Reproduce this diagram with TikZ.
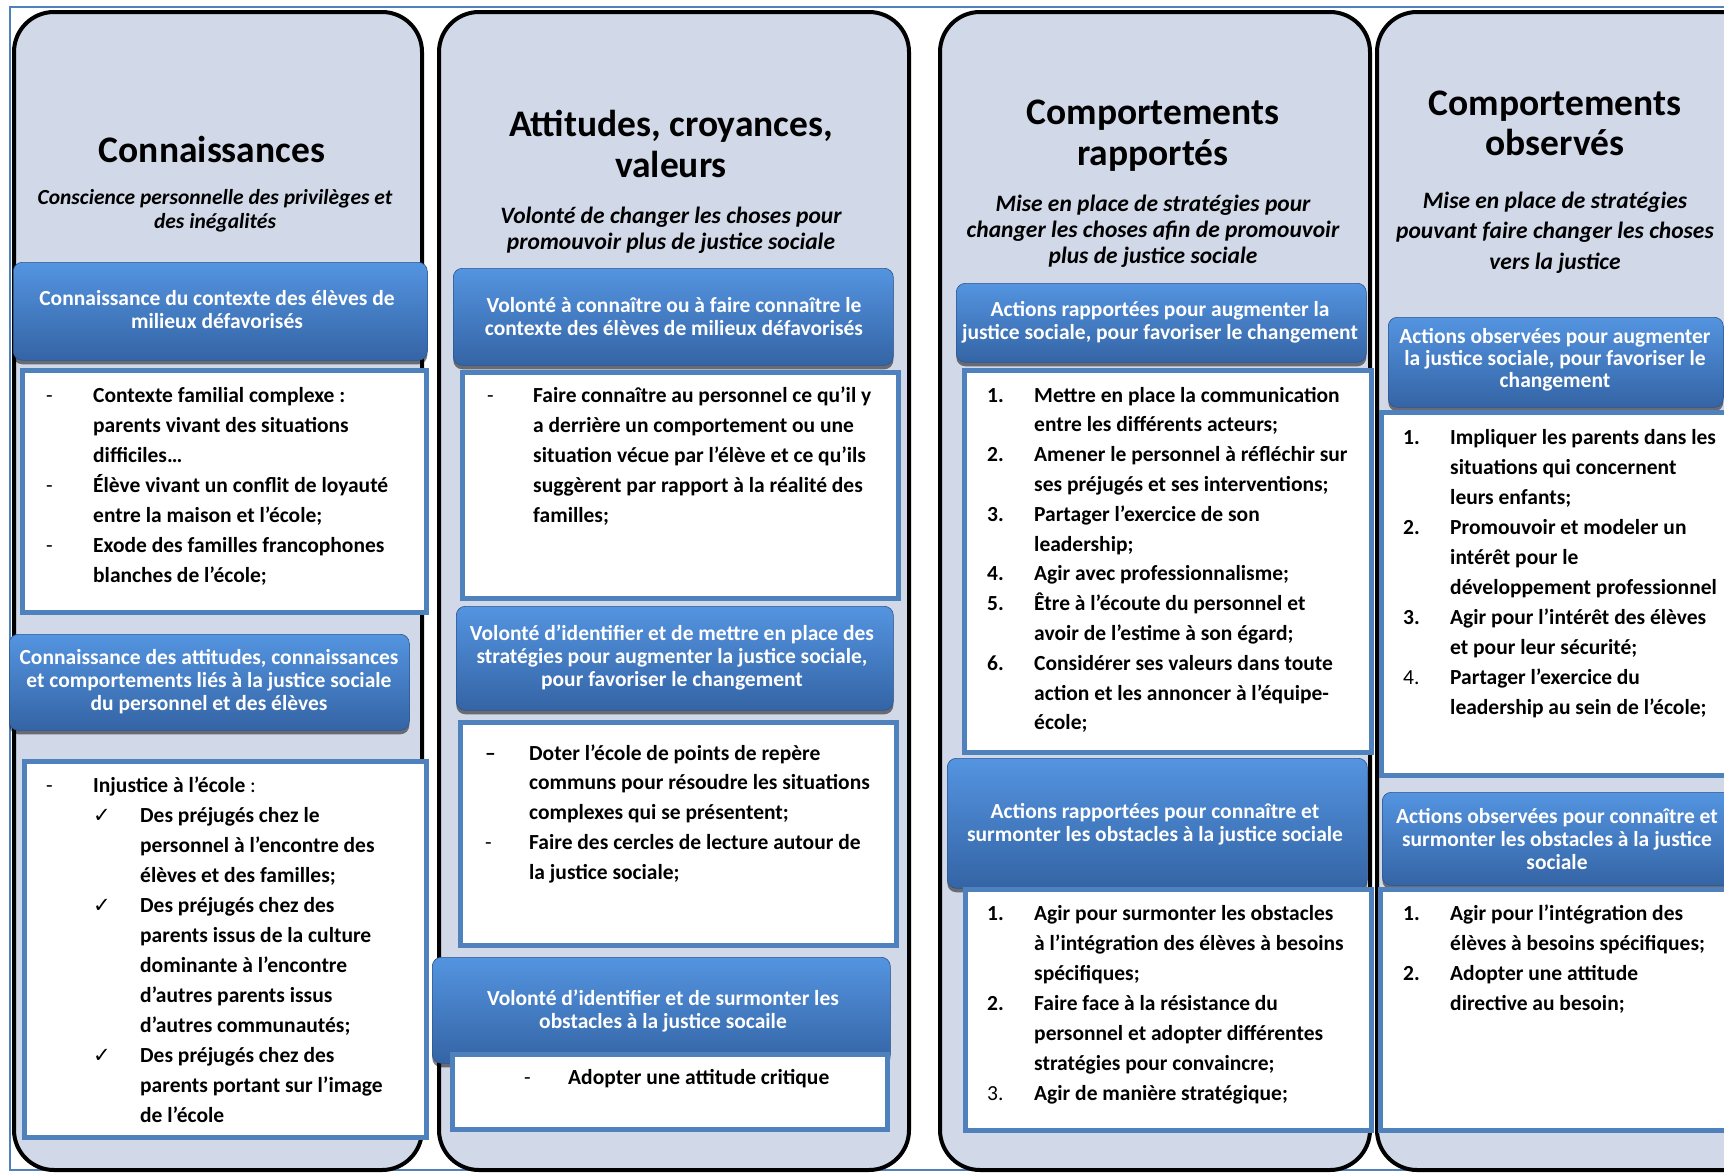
\documentclass[tikz,border=0pt]{standalone}
\usepackage{fontspec}
\setmainfont{Carlito}
\newfontfamily\dejavu{DejaVu Sans}
\usetikzlibrary{shadows}
\definecolor{colfill}{RGB}{209,216,232}
\definecolor{frameblue}{RGB}{79,129,189}
\definecolor{hdrtop}{RGB}{84,148,224}
\definecolor{hdrbot}{RGB}{52,100,165}
\newcommand\ctab[1]{\begin{tabular}[t]{@{}c@{}}#1\end{tabular}}
\newcommand\chk{{\dejavu\mdseries\fontsize{21}{21}\selectfont ✓}}
\newcommand\rg[1]{{\mdseries #1}}
\tikzset{
  colbox/.style={draw=black, line width=4pt, fill=colfill, rounded corners=40pt, inner sep=0pt, anchor=north west},
  hdrbox/.style={rounded corners=9pt, top color=hdrtop, bottom color=hdrbot, draw=hdrbot!85!black, line width=0.6pt,
     drop shadow={shadow xshift=0pt, shadow yshift=-4pt, opacity=0.5, fill=black}, inner sep=0pt, anchor=north west},
  wbox/.style={draw=frameblue, line width=4.5pt, fill=white, inner sep=0pt, anchor=north west},
  ttl/.style={inner sep=0pt, anchor=base, font=\fontsize{37.5}{41}\selectfont\bfseries},
  subt/.style={inner sep=0pt, anchor=base, font=\fontsize{23.5}{26.5}\selectfont\bfseries\itshape},
  hdrtxt/.style={inner sep=0pt, anchor=base, text=white, font=\fontsize{21.5}{23}\selectfont\bfseries},
  lst/.style={inner sep=0pt, anchor=base west, font=\fontsize{21.5}{30}\selectfont\bfseries},
  frame/.style={draw=frameblue, line width=1.5pt}
}
\begin{document}
\begin{tikzpicture}[x=1pt,y=-1pt]
\useasboundingbox (0,0) rectangle (1724,1175);
\clip (0,0) rectangle (1724,1175);
\draw[frame] (10,7) rectangle (1780,1170);

% columns
\node[colbox, minimum width=408pt, minimum height=1158pt] (c1) at (12,10) {};
\node[colbox, minimum width=470pt, minimum height=1158pt] (c2) at (437,10) {};
\node[colbox, minimum width=430pt, minimum height=1158pt] (c3) at (938,10) {};
\node[colbox, minimum width=390pt, minimum height=1158pt] (c4) at (1375,10) {};

% ---------- column 1 ----------
\node[ttl] (t1) at (212,162) {Connaissances};
\node[subt, font=\fontsize{21.5}{24}\selectfont\bfseries\itshape] (s1) at (215,204) {\ctab{Conscience personnelle des privilèges et\\des inégalités}};
\node[hdrbox, minimum width=414pt, minimum height=98pt] (h11) at (13,262) {};
\node[hdrtxt] (h11t) at (217,305) {\ctab{Connaissance du contexte des élèves de\\milieux défavorisés}};
\node[wbox, minimum width=404pt, minimum height=242pt] (b11) at (20,368) {};
\node[lst] (b11t) at (46,402) {\begin{tabular}[t]{@{}p{47pt}@{}l@{}}
\rg{-} & Contexte familial complexe :\\
 & parents vivant des situations\\
 & difficiles…\\
\rg{-} & Élève vivant un conflit de loyauté\\
 & entre la maison et l’école;\\
\rg{-} & Exode des familles francophones\\
 & blanches de l’école;
\end{tabular}};
\node[hdrbox, minimum width=400pt, minimum height=96pt] (h12) at (9,634) {};
\node[hdrtxt] (h12t) at (209,664) {\ctab{Connaissance des attitudes, connaissances\\et comportements liés à la justice sociale\\du personnel et des élèves}};
\node[wbox, minimum width=402pt, minimum height=376pt] (b12) at (22,759) {};
\node[lst] (b12t) at (46,792) {\begin{tabular}[t]{@{}p{47pt}@{}p{47pt}@{}l@{}}
\rg{-} & \multicolumn{2}{@{}l@{}}{Injustice à l’école \rg{:}}\\
 & \chk & Des préjugés chez le\\
 & & personnel à l’encontre des\\
 & & élèves et des familles;\\
 & \chk & Des préjugés chez des\\
 & & parents issus de la culture\\
 & & dominante à l’encontre\\
 & & d’autres parents issus\\
 & & d’autres communautés;\\
 & \chk & Des préjugés chez des\\
 & & parents portant sur l’image\\
 & & de l’école
\end{tabular}};

% ---------- column 2 ----------
\node[ttl] (t2) at (671,136) {\ctab{Attitudes, croyances,\\valeurs}};
\node[subt] (s2) at (671,223) {\ctab{Volonté de changer les choses pour\\promouvoir plus de justice sociale}};
\node[hdrbox, minimum width=440pt, minimum height=97pt] (h21) at (453,268) {};
\node[hdrtxt] (h21t) at (674,312) {\ctab{Volonté à connaître ou à faire connaître le\\contexte des élèves de milieux défavorisés}};
\node[wbox, minimum width=436pt, minimum height=226pt] (b21) at (460,370) {};
\node[lst] (b21t) at (487,402) {\begin{tabular}[t]{@{}p{46pt}@{}l@{}}
\rg{-} & Faire connaître au personnel ce qu’il y\\
 & a derrière un comportement ou une\\
 & situation vécue par l’élève et ce qu’ils\\
 & suggèrent par rapport à la réalité des\\
 & familles;
\end{tabular}};
\node[hdrbox, minimum width=437pt, minimum height=104pt] (h22) at (456,606) {};
\node[hdrtxt] (h22t) at (672,640) {\ctab{Volonté d’identifier et de mettre en place des\\stratégies pour augmenter la justice sociale,\\pour favoriser le changement}};
\node[wbox, minimum width=436pt, minimum height=223pt] (b22) at (458,720) {};
\node[lst, font=\fontsize{21.5}{29.8}\selectfont\bfseries] (b22t) at (485,760) {\begin{tabular}[t]{@{}p{44pt}@{}l@{}}
– & Doter l’école de points de repère\\
 & communs pour résoudre les situations\\
 & complexes qui se présentent;\\
\rg{-} & Faire des cercles de lecture autour de\\
 & la justice sociale;
\end{tabular}};
\node[hdrbox, minimum width=458pt, minimum height=106pt] (h23) at (432,957) {};
\node[hdrtxt] (h23t) at (663,1005) {\ctab{Volonté d'identifier et de surmonter les\\obstacles à la justice socaile}};
\node[wbox, minimum width=435pt, minimum height=75pt] (b23) at (450,1052) {};
\node[lst] (b23t) at (524,1084) {\begin{tabular}[t]{@{}p{44pt}@{}l@{}}
\rg{-} & Adopter une attitude critique
\end{tabular}};

% ---------- column 3 ----------
\node[ttl] (t3) at (1153,124) {\ctab{Comportements\\rapportés}};
\node[subt, font=\fontsize{23.5}{26}\selectfont\bfseries\itshape] (s3) at (1153,211) {\ctab{Mise en place de stratégies pour\\changer les choses afin de promouvoir\\plus de justice sociale}};
\node[hdrbox, minimum width=410pt, minimum height=79pt] (h31) at (956,283) {};
\node[hdrtxt] (h31t) at (1160,316) {\ctab{Actions rapportées pour augmenter la\\justice sociale, pour favoriser le changement}};
\node[wbox, minimum width=407pt, minimum height=382pt] (b31) at (962,368) {};
\node[lst, font=\fontsize{21.5}{29.8}\selectfont\bfseries] (b31t) at (987,402) {\begin{tabular}[t]{@{}p{47pt}@{}l@{}}
1. & Mettre en place la communication\\
 & entre les différents acteurs;\\
2. & Amener le personnel à réfléchir sur\\
 & ses préjugés et ses interventions;\\
3. & Partager l’exercice de son\\
 & leadership;\\
4. & Agir avec professionnalisme;\\
5. & Être à l’écoute du personnel et\\
 & avoir de l’estime à son égard;\\
6. & Considérer ses valeurs dans toute\\
 & action et les annoncer à l’équipe-\\
 & école;
\end{tabular}};
\node[hdrbox, minimum width=420pt, minimum height=130pt] (h32) at (947,758) {};
\node[hdrtxt] (h32t) at (1155,818) {\ctab{Actions rapportées pour connaître et\\surmonter les obstacles à la justice sociale}};
\node[wbox, minimum width=406pt, minimum height=241pt] (b32) at (963,887) {};
\node[lst] (b32t) at (987,920) {\begin{tabular}[t]{@{}p{47pt}@{}l@{}}
1. & Agir pour surmonter les obstacles\\
 & à l’intégration des élèves à besoins\\
 & spécifiques;\\
2. & Faire face à la résistance du\\
 & personnel et adopter différentes\\
 & stratégies pour convaincre;\\
\rg{3.} & Agir de manière stratégique;
\end{tabular}};

% ---------- column 4 ----------
\node[ttl, font=\fontsize{37.5}{40}\selectfont\bfseries] (t4) at (1555,115) {\ctab{Comportements\\observés}};
\node[subt, font=\fontsize{23.5}{30.5}\selectfont\bfseries\itshape] (s4) at (1555,208) {\ctab{Mise en place de stratégies\\pouvant faire changer les choses\\vers la justice}};
\node[hdrbox, minimum width=335pt, minimum height=90pt] (h41) at (1388,317) {};
\node[hdrtxt, font=\fontsize{21.5}{22}\selectfont\bfseries] (h41t) at (1555,343) {\ctab{Actions observées pour augmenter\\la justice sociale, pour favoriser le\\changement}};
\node[wbox, minimum width=400pt, minimum height=363pt] (b41) at (1379,410) {};
\node[lst] (b41t) at (1403,444) {\begin{tabular}[t]{@{}p{47pt}@{}l@{}}
1. & Impliquer les parents dans les\\
 & situations qui concernent\\
 & leurs enfants;\\
2. & Promouvoir et modeler un\\
 & intérêt pour le\\
 & développement professionnel\\
3. & Agir pour l’intérêt des élèves\\
 & et pour leur sécurité;\\
\rg{4.} & Partager l’exercice du\\
 & leadership au sein de l’école;
\end{tabular}};
\node[hdrbox, minimum width=400pt, minimum height=93pt] (h42) at (1382,792) {};
\node[hdrtxt] (h42t) at (1557,823) {\ctab{Actions observées pour connaître et\\surmonter les obstacles à la justice\\sociale}};
\node[wbox, minimum width=400pt, minimum height=241pt] (b42) at (1378,887) {};
\node[lst] (b42t) at (1403,920) {\begin{tabular}[t]{@{}p{47pt}@{}l@{}}
1. & Agir pour l’intégration des\\
 & élèves à besoins spécifiques;\\
2. & Adopter une attitude\\
 & directive au besoin;
\end{tabular}};
\end{tikzpicture}
\end{document}
